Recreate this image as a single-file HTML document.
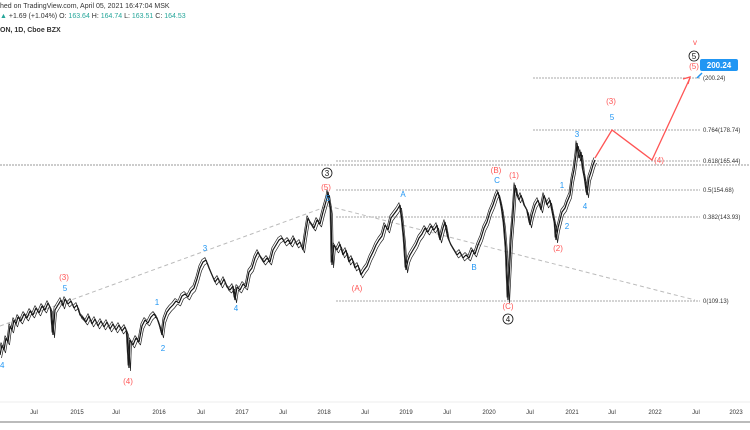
<!DOCTYPE html>
<html><head><meta charset="utf-8">
<style>
body{margin:0;background:#fff;}
svg{display:block;font-family:"Liberation Sans",sans-serif;}
</style></head><body>
<svg width="750" height="430" viewBox="0 0 750 430" xmlns="http://www.w3.org/2000/svg">
<defs>
<polyline id="pl" fill="none" stroke-linejoin="bevel" points="0,355 2,345 4,350 6,338 8,342 10,326 12,330 14,320 16,324 18,317 21,321 24,314 27,318 30,311 33,315 36,308 39,313 42,306 45,310 48,303 51,309 53,335 55,310 58,305 61,300 63,306 65,299 68,304 71,301 74,308 77,305 80,315 83,318 86,322 89,316 92,324 95,319 98,326 101,321 104,327 107,322 110,329 113,324 116,330 119,325 122,331 125,327 127,332 129,368 130,340 133,345 136,338 139,342 142,326 145,320 148,323 151,317 154,314 157,318 160,327 162,335 164,320 167,312 170,308 173,305 176,301 179,303 182,296 185,294 188,297 191,291 194,288 197,279 200,268 203,262 206,260 209,268 212,275 215,282 218,278 221,285 224,279 227,287 230,290 233,286 235,300 237,287 240,290 243,284 246,287 249,272 252,268 255,258 258,252 261,258 264,262 267,258 270,262 273,250 276,245 279,240 282,238 285,243 288,240 291,244 294,238 297,245 300,242 303,250 306,230 308,218 311,224 314,228 317,220 320,224 323,212 325,205 327,198 328,192 330,205 331,212 332,265 334,245 337,250 340,244 343,255 346,250 349,262 352,258 355,268 358,265 361,275 364,270 367,266 370,258 373,252 376,245 379,240 382,236 385,225 388,230 391,218 394,214 397,210 400,205 402,220 404,240 406,270 408,260 410,255 413,250 416,245 419,238 422,234 425,228 428,232 431,226 434,230 437,225 440,240 443,228 445,222 448,238 451,245 454,250 457,255 460,252 463,258 466,255 469,258 472,250 475,254 478,245 481,238 484,228 487,222 490,212 493,205 496,196 498,192 500,200 502,210 504,225 506,250 508,300 510,260 511,240 513,215 515,185 517,195 519,200 521,195 524,205 527,210 530,225 532,215 535,205 538,200 541,210 544,195 547,205 550,200 553,215 555,225 556,240 558,228 560,220 562,212 565,208 567,202 570,195 572,180 574,170 576,155 577,143 579,158 581,152 583,170 585,180 587,195 589,178 591,172 593,165 595,160"/>
</defs>
<rect width="750" height="430" fill="#fff"/>
<text x="0" y="8" font-size="7" fill="#333">hed on TradingView.com, April 05, 2021 16:47:04 MSK</text>
<text x="0" y="18" font-size="7" fill="#333"><tspan fill="#26a69a">▲</tspan> +1.69 (+1.04%) O: <tspan fill="#26a69a">163.64</tspan> H: <tspan fill="#26a69a">164.74</tspan> L: <tspan fill="#26a69a">163.51</tspan> C: <tspan fill="#26a69a">164.53</tspan></text>
<text x="0" y="32" font-size="7" fill="#333" font-weight="bold">ON, 1D, Cboe BZX</text>
<g stroke="#aaa" stroke-width="1" stroke-dasharray="2,1">
<line x1="533" y1="78" x2="700" y2="78"/>
<line x1="533" y1="130" x2="700" y2="130"/>
<line x1="336" y1="161" x2="700" y2="161"/>
<line x1="336" y1="190" x2="700" y2="190"/>
<line x1="336" y1="217" x2="700" y2="217"/>
<line x1="336" y1="301" x2="700" y2="301"/>
<line x1="0" y1="165" x2="750" y2="165" stroke="#999"/>
</g>
<g stroke="#bbb" stroke-width="1" stroke-dasharray="4,3">
<line x1="0" y1="326" x2="328" y2="206"/>
<line x1="328" y1="206" x2="695" y2="300"/>
</g>
<g font-size="6" fill="#333">
<text x="703" y="80">(200.24)</text>
<text x="703" y="132">0.764(178.74)</text>
<text x="703" y="163">0.618(165.44)</text>
<text x="703" y="192">0.5(154.68)</text>
<text x="703" y="219">0.382(143.93)</text>
<text x="703" y="303">0(109.13)</text>
</g>
<use href="#pl" stroke="#111" stroke-width="1.2"/>
<use href="#pl" stroke="#222" stroke-width="0.7" transform="translate(1.5,3)"/>
<use href="#pl" stroke="#222" stroke-width="0.7" transform="translate(-1,-2.5)"/>
<polyline points="595,158 612,130 652,160 690,78" fill="none" stroke="#f55" stroke-width="1.3"/>
<polyline points="683,79 690,77 688,84" fill="none" stroke="#f55" stroke-width="1.3"/>
<line x1="697" y1="78" x2="702" y2="73" stroke="#2196f3" stroke-width="1.5"/>
<rect x="700" y="59" width="38" height="12" rx="2" fill="#2196f3"/>
<text x="719" y="68" font-size="8" font-weight="bold" fill="#fff" text-anchor="middle">200.24</text>
<g font-size="8" fill="#2196f3" text-anchor="middle">
<text x="65" y="291">5</text><text x="157" y="305">1</text><text x="163" y="351">2</text><text x="205" y="251">3</text><text x="236" y="311">4</text>
<text x="328" y="201">5</text><text x="403" y="197">A</text><text x="474" y="270">B</text><text x="497" y="183">C</text>
<text x="562" y="188">1</text><text x="567" y="229">2</text><text x="577" y="137">3</text><text x="585" y="209">4</text><text x="612" y="120">5</text>
</g>
<g font-size="8" fill="#f55" text-anchor="middle">
<text x="64" y="280">(3)</text><text x="128" y="384">(4)</text><text x="326" y="190">(5)</text><text x="357" y="291">(A)</text>
<text x="496" y="173">(B)</text><text x="514" y="178">(1)</text><text x="508" y="309">(C)</text><text x="558" y="251">(2)</text>
<text x="611" y="104">(3)</text><text x="659" y="163">(4)</text><text x="694" y="69">(5)</text><text x="695" y="45">v</text>
</g>
<g font-size="8" fill="#111" text-anchor="middle" stroke-width="0.8">
<circle cx="327" cy="173" r="5" fill="none" stroke="#111"/><text x="327" y="176">3</text>
<circle cx="508" cy="319" r="5" fill="none" stroke="#111"/><text x="508" y="322">4</text>
<circle cx="694" cy="56" r="5" fill="none" stroke="#111"/><text x="694" y="59">5</text>
</g>
<text x="0" y="368" font-size="8" fill="#2196f3">4</text>
<line x1="0" y1="402" x2="750" y2="402" stroke="#eee"/>
<line x1="0" y1="422" x2="750" y2="422" stroke="#777" stroke-width="1"/>
<g font-size="6" fill="#333" text-anchor="middle">
<text x="34" y="414">Jul</text><text x="77" y="414">2015</text><text x="116" y="414">Jul</text><text x="159" y="414">2016</text><text x="201" y="414">Jul</text><text x="242" y="414">2017</text><text x="283" y="414">Jul</text><text x="324" y="414">2018</text><text x="365" y="414">Jul</text><text x="406" y="414">2019</text><text x="447" y="414">Jul</text><text x="489" y="414">2020</text><text x="530" y="414">Jul</text><text x="572" y="414">2021</text><text x="612" y="414">Jul</text><text x="655" y="414">2022</text><text x="696" y="414">Jul</text><text x="736" y="414">2023</text>
</g>
</svg>
</body></html>
